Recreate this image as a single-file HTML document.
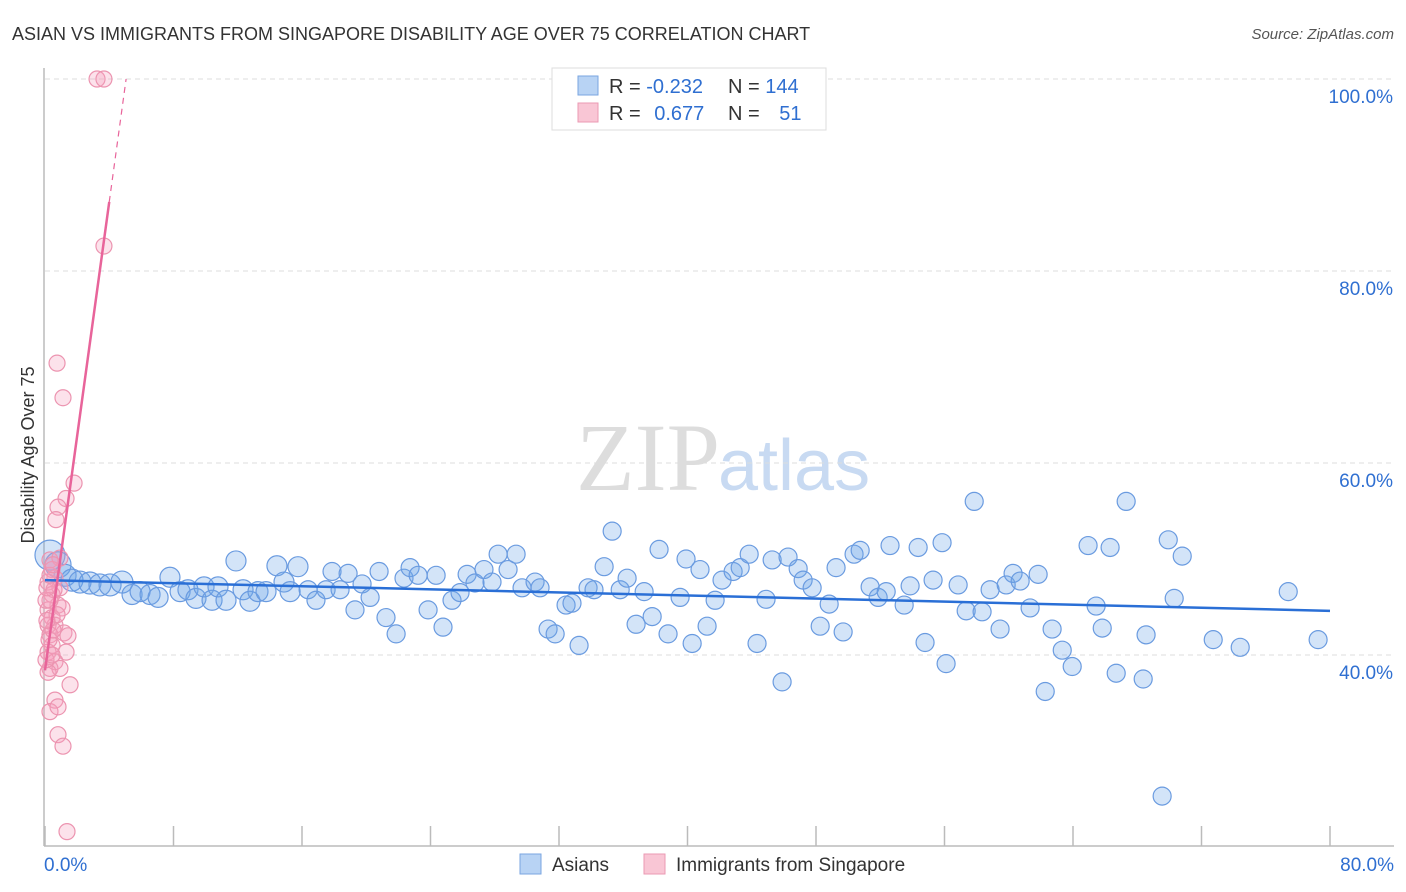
<!DOCTYPE html>
<html><head><meta charset="utf-8"><style>
body{margin:0;background:#fff;font-family:"Liberation Sans",sans-serif;}
#wrap{position:relative;width:1406px;height:892px;overflow:hidden;}
</style></head><body>
<div id="wrap">
<svg id="svg" width="1406" height="892" xmlns="http://www.w3.org/2000/svg">
<text x="12" y="40" font-size="18" fill="#333">ASIAN VS IMMIGRANTS FROM SINGAPORE DISABILITY AGE OVER 75 CORRELATION CHART</text>
<text x="1394" y="39" font-size="15" fill="#555" font-style="italic" text-anchor="end">Source: ZipAtlas.com</text>
<text x="720" y="490" font-size="96" fill="#ddd" font-family="Liberation Serif,serif" text-anchor="end">ZIP</text>
<text x="718" y="490" font-size="72" fill="#c8daf2">atlas</text>
<text transform="translate(34,455) rotate(-90)" font-size="18" fill="#333" text-anchor="middle">Disability Age Over 75</text>
<g id="grid"></g><g id="axes"></g><g id="pts"></g><g id="trend"></g>
<g>
<rect x="552" y="68" width="274" height="62" fill="#fff" stroke="#ddd"/>
<rect x="578" y="76" width="20" height="19" fill="#b8d3f4" stroke="#7aa6e0"/>
<rect x="578" y="103" width="20" height="19" fill="#f9c6d5" stroke="#eb9ab3"/>
<text x="609" y="93" font-size="20" fill="#333">R = <tspan fill="#2f6fd1">-0.232</tspan></text>
<text x="728" y="93" font-size="20" fill="#333">N = <tspan fill="#2f6fd1">144</tspan></text>
<text x="609" y="120" font-size="20" fill="#333">R = <tspan fill="#2f6fd1" dx="8">0.677</tspan></text>
<text x="728" y="120" font-size="20" fill="#333">N = <tspan fill="#2f6fd1" dx="14">51</tspan></text>
</g>
<g>
<rect x="520" y="854" width="21" height="20" fill="#b8d3f4" stroke="#7aa6e0"/>
<text x="552" y="871" font-size="19" fill="#333">Asians</text>
<rect x="644" y="854" width="21" height="20" fill="#f9c6d5" stroke="#eb9ab3"/>
<text x="676" y="871" font-size="19" fill="#333">Immigrants from Singapore</text>
</g>
</svg>
</div>
<script>
const xTicks=[0,8,16,24,32,40,48,56,64,72,80];
const yTicks=[40,60,80,100];
const yTickLabels=["40.0%","60.0%","80.0%","100.0%"];
const xTickLabels=["0.0%","80.0%"];
const asianX=[0.31,0.81,1.25,1.68,2.18,2.8,3.42,4.05,4.79,5.42,5.92,6.54,7.04,7.78,8.41,8.9,9.4,9.9,10.4,10.77,11.27,11.89,12.33,12.76,13.26,13.76,14.44,14.88,15.26,15.75,16.38,16.87,17.5,17.87,18.37,18.87,19.3,19.74,20.24,20.8,21.23,21.86,22.35,22.73,23.23,23.85,24.35,24.78,25.34,25.84,26.28,26.77,27.33,27.83,28.21,28.83,29.33,29.7,30.51,30.82,31.32,31.76,32.44,32.81,33.25,33.81,34.18,34.81,35.31,35.81,36.24,36.8,37.3,37.8,38.23,38.79,39.54,39.91,40.29,40.78,41.22,41.72,42.15,42.84,43.28,43.84,44.33,44.89,45.27,45.89,46.26,46.89,47.2,47.76,48.26,48.82,49.25,49.69,50.37,50.75,51.37,51.87,52.37,52.61,53.49,53.86,54.36,54.79,55.29,55.85,56.1,56.85,57.35,57.85,58.34,58.84,59.46,59.84,60.27,60.71,61.33,61.83,62.27,62.7,63.33,63.95,64.94,65.44,65.82,66.31,66.69,67.31,68.55,68.37,69.93,70.3,70.8,69.55,72.73,74.41,77.4,79.26];
const asianY=[50.4,49.4,48.3,47.8,47.6,47.5,47.3,47.3,47.6,46.3,46.6,46.3,46.0,48.1,46.6,46.8,45.9,47.1,45.7,47.1,45.7,49.8,46.8,45.6,46.6,46.6,49.3,47.6,46.6,49.2,46.8,45.7,46.8,48.7,46.8,48.5,44.7,47.4,46.0,48.7,43.9,42.2,48.0,49.1,48.3,44.7,48.3,42.9,45.7,46.5,48.4,47.5,48.9,47.6,50.5,48.9,50.5,47.0,47.6,47.0,42.7,42.2,45.2,45.4,41.0,47.0,46.8,49.2,52.9,46.8,48.0,43.2,46.6,44.0,51.0,42.2,46.0,50.0,41.2,48.9,43.0,45.7,47.8,48.7,49.1,50.5,41.2,45.8,49.9,37.2,50.2,49.0,47.8,47.0,43.0,45.3,49.1,42.4,50.5,50.9,47.1,46.0,46.6,51.4,45.2,47.2,51.2,41.3,47.8,51.7,39.1,47.3,44.6,56.0,44.5,46.8,42.7,47.3,48.5,47.7,44.9,48.4,36.2,42.7,40.5,38.8,51.4,45.1,42.8,51.2,38.1,56.0,42.1,37.5,52.0,45.9,50.3,25.3,41.6,40.8,46.6,41.6];
const asianR=[15,13,11,11,11,11,11,11,11,10,10,10,10,10,10,10,10,10,10,10,10,10,10,10,10,10,10,10,10,10];
const singX=[3.24,3.67,3.67,0.75,1.12,1.81,1.31,0.81,0.68,0.31,0.93,0.44,0.62,0.19,0.93,0.44,0.81,1.06,0.19,0.44,0.62,1.18,0.19,0.31,1.43,0.44,0.19,1.31,0.62,0.31,0.93,0.19,1.56,0.62,0.31,0.81,0.81,1.12,1.37,0.31,0.56,0.06,0.25,0.5,0.75,0.12,0.31,0.5,0.06,0.44,0.12];
const singY=[100,100,82.6,70.4,66.8,57.9,56.3,55.4,54.1,49.9,50.1,48.9,48,47.6,47,46.3,45.2,44.9,44.7,43.9,43.1,42.3,43.1,42.1,42,41,40.3,40.3,39.3,38.6,38.6,38.2,36.9,35.3,34.1,34.6,31.7,30.5,21.6,45.7,46.8,45.7,41.6,42.6,44.2,47,48.3,49.4,39.5,40,43.6];
const asianTrend=[47.8,44.6];
const singTrend=[38.4,12.2];
const X=v=>45+v*16.0625, Y=v=>79+(100-v)*9.6;
const NS="http://www.w3.org/2000/svg";
function mk(tag,attrs,parent){const e=document.createElementNS(NS,tag);for(const k in attrs)e.setAttribute(k,attrs[k]);document.getElementById(parent).appendChild(e);return e;}
yTicks.forEach((t,i)=>{
 const l=mk('line',{x1:45,x2:1394,y1:Y(t),y2:Y(t),stroke:'#ddd','stroke-dasharray':'5,4'},'grid');
 
 
 const tx=mk('text',{x:1393,y:Y(t)+24,'font-size':19,fill:'#2f6fd1','text-anchor':'end'},'grid');
 tx.textContent=yTickLabels[i];
 
 
});
const ax=mk('line',{x1:44,x2:44,y1:68,y2:846,stroke:'#bbb','stroke-width':1.5},'axes');


const bx=mk('line',{x1:44,x2:1394,y1:846,y2:846,stroke:'#bbb','stroke-width':1.5},'axes');


xTicks.forEach(t=>{const l=mk('line',{x1:X(t),x2:X(t),y1:826,y2:846,stroke:'#bbb','stroke-width':1.5},'axes');
 
 });
[[0,'start',44],[80,'end',1394]].forEach((a,i)=>{const tx=mk('text',{x:a[2],y:871,'font-size':19,fill:'#2f6fd1','text-anchor':a[1]},'axes');tx.textContent=xTickLabels[i];
 
 });
asianX.forEach((v,i)=>{const c=mk('circle',{cx:X(v),cy:Y(asianY[i]),r:asianR[i]||9,fill:'rgba(110,165,232,0.3)',stroke:'#6a9be0','stroke-width':1.2},'pts');
 
 });
singX.forEach((v,i)=>{const c=mk('circle',{cx:X(v),cy:Y(singY[i]),r:8,fill:'rgba(244,160,188,0.3)',stroke:'#ec94b0','stroke-width':1.2},'pts');
 
 });
const t1=mk('line',{x1:X(0),y1:Y(asianTrend[0]),x2:X(80),y2:Y(asianTrend[1]),stroke:'#2a6fd6','stroke-width':2.5},'trend');


const t2=mk('line',{x1:X(0),y1:Y(singTrend[0]),x2:X(4),y2:Y(singTrend[0]+4*singTrend[1]),stroke:'#e8649a','stroke-width':2.5},'trend');


const xe=(100-singTrend[0])/singTrend[1];
const t3=mk('line',{x1:X(4),y1:Y(singTrend[0]+4*singTrend[1]),x2:X(xe),y2:Y(100),stroke:'#e8649a','stroke-width':1.2,'stroke-dasharray':'6,5'},'trend');


</script>
</body></html>
